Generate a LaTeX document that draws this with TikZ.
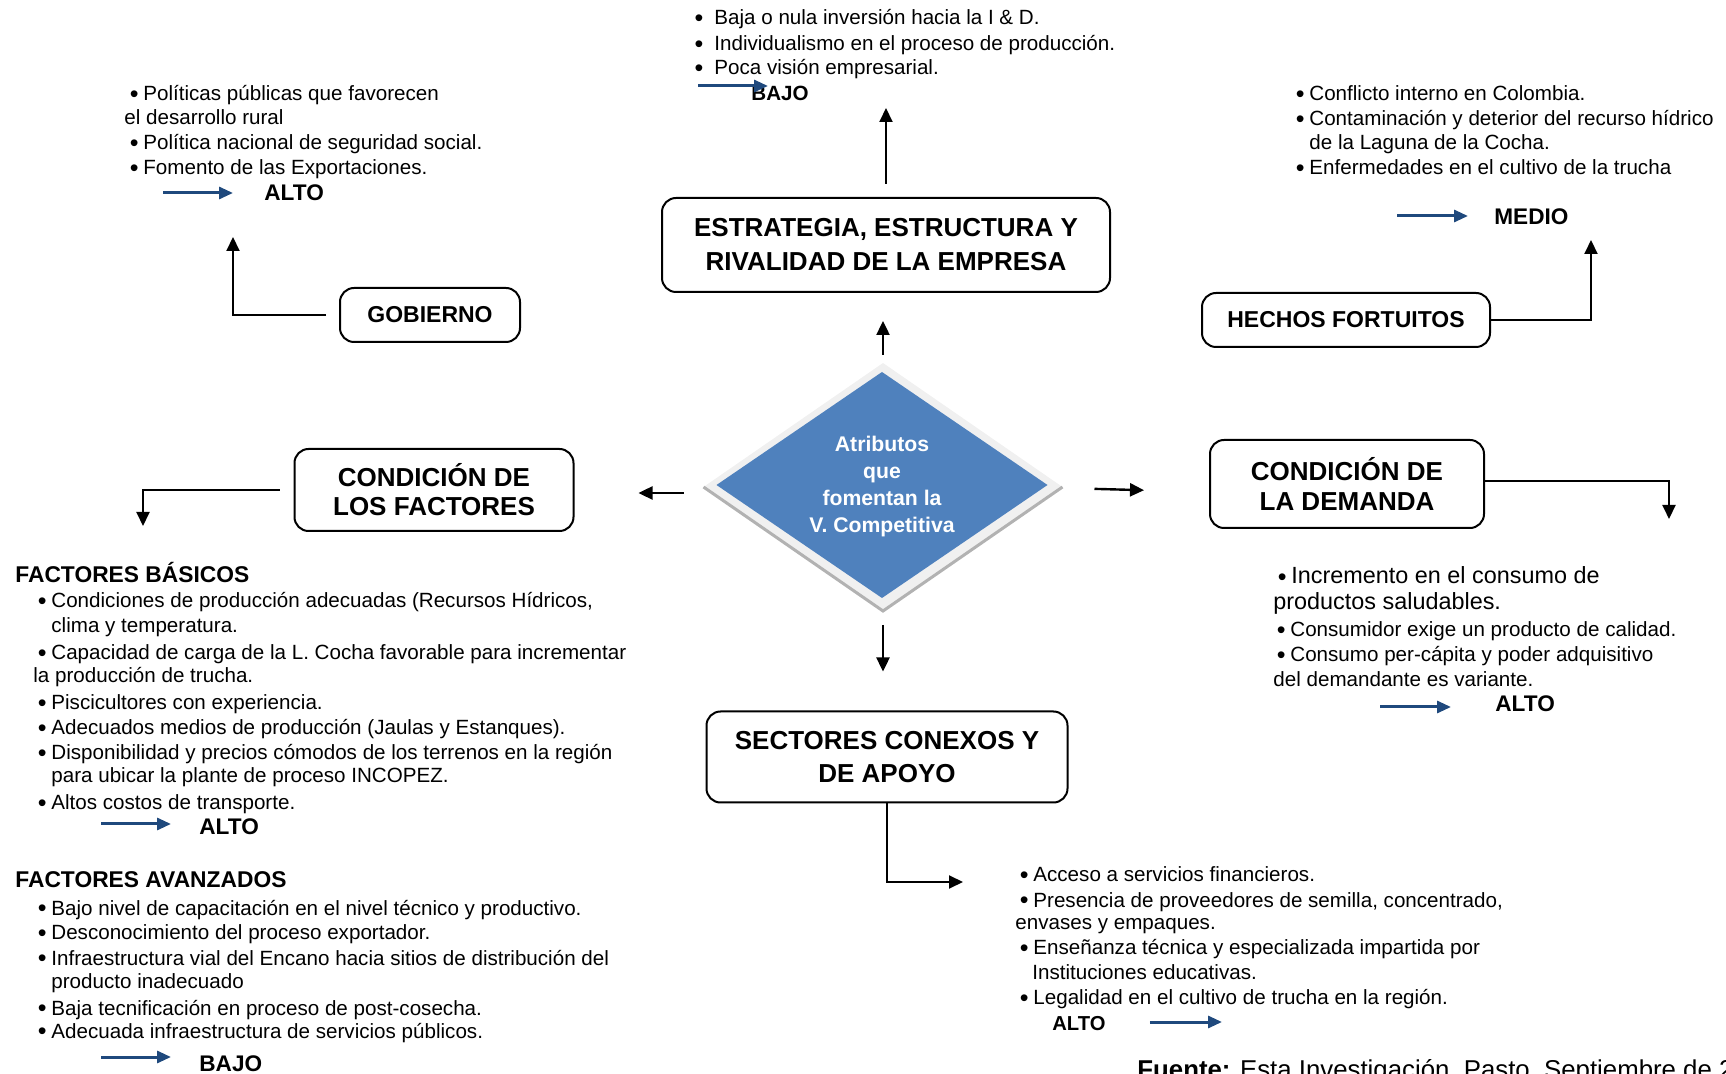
\documentclass[tikz,border=0pt]{standalone}
\usepackage{fontspec}
\setmainfont{Liberation Sans}
\usetikzlibrary{arrows.meta,shapes.geometric}

\definecolor{azulRombo}{HTML}{4F81BD}
\definecolor{azulFlecha}{HTML}{1F497D}
\newcommand{\punto}{\raisebox{-0.9pt}{\fontsize{12.5}{12}\selectfont\textbullet}}
\newcommand{\vin}{\llap{\punto\hspace{2.4pt}}}

\tikzset{
  caja/.style={draw, line width=1pt, rounded corners=7pt, align=center, inner sep=0pt, font=\bfseries\fontsize{13}{17}\selectfont},
  cajita/.style={caja, font=\bfseries\fontsize{11.5}{14}\selectfont},
  flecha/.style={-{Triangle[length=7pt,width=6.5pt]}, line width=1pt},
  azul/.style={-{Triangle[length=7pt,width=6pt]}, line width=1.5pt, draw=azulFlecha, fill=azulFlecha},
  linea/.style={anchor=base west, inner sep=0pt, font=\fontsize{10.3}{12.3}\selectfont},
  lineag/.style={linea, font=\fontsize{11.7}{13}\selectfont},
  nivel/.style={anchor=base west, inner sep=0pt, font=\bfseries\fontsize{11.3}{13}\selectfont},
  titulo/.style={nivel, font=\bfseries\fontsize{11.4}{13}\selectfont},
}

\begin{document}
\begin{tikzpicture}[x=0.5pt,y=-0.5pt]
\clip (0,0) rectangle (1726,1074);

% Rombo central
\node[diamond, fill=gray!12, minimum width=179.5pt, minimum height=124pt, inner sep=0pt, outer sep=0pt] (marco) at (883,487) {};
\draw[gray!60, line width=1.5pt] (marco.west) -- (marco.south) -- (marco.east);
\node[diamond, fill=azulRombo, minimum width=165.5pt, minimum height=113pt, inner sep=0pt, outer sep=0pt] (rombo) at (882,485) {};
\node[text=white, align=center, inner sep=0pt, font=\bfseries\fontsize{10.6}{13.5}\selectfont] (lema) at (882,487) {Atributos\\que\\fomentan la\\V. Competitiva};

% Cajas
\node[caja, minimum width=224pt, minimum height=47pt] (estr) at (886,245) {ESTRATEGIA, ESTRUCTURA Y\\RIVALIDAD DE LA EMPRESA};
\node[cajita, minimum width=90pt, minimum height=27pt] (gob) at (430,315) {GOBIERNO};
\node[cajita, minimum width=144pt, minimum height=27pt] (hechos) at (1346,320) {HECHOS FORTUITOS};
\node[caja, minimum width=139.5pt, minimum height=41pt, font=\bfseries\fontsize{13}{14.5}\selectfont] (factores) at (434,490) {CONDICIÓN DE\\LOS FACTORES};
\node[caja, minimum width=137pt, minimum height=44pt, font=\bfseries\fontsize{13}{15}\selectfont] (demanda) at (1347,484) {CONDICIÓN DE\\LA DEMANDA};
\node[caja, minimum width=180.5pt, minimum height=45.5pt, font=\bfseries\fontsize{13}{16.5}\selectfont] (sectores) at (887,757) {SECTORES CONEXOS Y\\DE APOYO};

% Flechas del rombo
\draw[flecha, line width=1.2pt, shorten <=4pt, shorten >=14pt] (marco.north) -- (marco.north |- estr.south);
\draw[flecha, line width=1.2pt, shorten <=10pt, shorten >=32pt] ([yshift=-3pt]marco.west) -- ([yshift=-3pt]marco.west -| factores.east);
\draw[flecha, line width=1.2pt, shorten <=16pt, shorten >=32.5pt] ([yshift=-0.5pt]marco.east) -- ([yshift=-2.5pt]marco.east -| demanda.west);
\draw[flecha, line width=1.2pt, shorten <=7pt, shorten >=19.5pt] (marco.south) -- (marco.south |- sectores.north);

% Conectores de las cajas
\coordinate (pE) at (886,108);
\coordinate (pG) at (233,237);
\coordinate (pH) at (1591,240);
\coordinate (pF) at (143,526);
\coordinate (pD) at (1669,519);
\coordinate (pS) at (963,882);
\draw[flecha, shorten <=6.5pt] (estr.north) -- (pE);
\draw[flecha, shorten <=6.5pt] (gob.west) -| (pG);
\draw[flecha] (hechos.east) -| (pH);
\draw[flecha, shorten <=7pt] (factores.west) -| (pF);
\draw[flecha] ([yshift=1.5pt]demanda.east) -| (pD);
\draw[flecha] (sectores.south) |- (pS);

% Estrategia
\node[linea] (e1) at (714,25) {\llap{\punto\hspace{5.5pt}}Baja o nula inversión hacia la I \& D.};
\node[linea] (e2) at (714,51) {\llap{\punto\hspace{5.5pt}}Individualismo en el proceso de producción.};
\node[linea] (e3) at (714,75) {\llap{\punto\hspace{5.5pt}}Poca visión empresarial.};
\node[nivel, font=\bfseries\fontsize{10.3}{12}\selectfont] (bajoE) at (751,101) {BAJO};
\coordinate (aE) at (698,86);
\draw[azul, shorten >=-8.5pt] (aE) -- (aE -| bajoE.west);

% Gobierno
\node[linea] (g1) at (143,101) {\vin Políticas públicas que favorecen};
\node[linea] (g2) at (124,125) {el desarrollo rural};
\node[linea] (g3) at (143,150) {\vin Política nacional de seguridad social.};
\node[linea] (g4) at (143,175) {\vin Fomento de las Exportaciones.};
\node[nivel] (altoG) at (264,201) {ALTO};
\coordinate (aG) at (163,193);
\draw[azul, shorten >=15.5pt] (aG) -- (aG -| altoG.west);

% Hechos fortuitos
\node[linea] (h1) at (1309,101) {\vin Conflicto interno en Colombia.};
\node[linea] (h2) at (1309,126) {\vin Contaminación y deterior del recurso hídrico};
\node[linea] (h3) at (1309,150) {de la Laguna de la Cocha.};
\node[linea] (h4) at (1309,175) {\vin Enfermedades en el cultivo de la trucha};
\node[nivel] (medio) at (1494,225) {MEDIO};
\coordinate (aH) at (1397,216);
\draw[azul, shorten >=13pt] (aH) -- (aH -| medio.west);

% Demanda
\node[lineag] (d1) at (1291,584) {\vin Incremento en el consumo de};
\node[lineag] (d2) at (1273,610) {productos saludables.};
\node[linea] (d3) at (1290,637) {\vin Consumidor exige un producto de calidad.};
\node[linea] (d4) at (1290,662) {\vin Consumo per-cápita y poder adquisitivo};
\node[linea] (d5) at (1273,687) {del demandante es variante.};
\node[nivel] (altoD) at (1495,712) {ALTO};
\coordinate (aD) at (1380,707);
\draw[azul, shorten >=22pt] (aD) -- (aD -| altoD.west);

% Factores basicos
\node[titulo] (bas) at (15,583) {FACTORES BÁSICOS};
\node[linea] (f1) at (51,608) {\vin Condiciones de producción adecuadas (Recursos Hídricos,};
\node[linea] (f2) at (51,633) {clima y temperatura.};
\node[linea] (f3) at (51,660) {\vin Capacidad de carga de la L. Cocha favorable para incrementar};
\node[linea] (f4) at (33,683) {la producción de trucha.};
\node[linea] (f5) at (51,710) {\vin Piscicultores con experiencia.};
\node[linea] (f6) at (51,735) {\vin Adecuados medios de producción (Jaulas y Estanques).};
\node[linea] (f7) at (51,760) {\vin Disponibilidad y precios cómodos de los terrenos en la región};
\node[linea] (f8) at (51,783) {para ubicar la plante de proceso INCOPEZ.};
\node[linea] (f9) at (51,810) {\vin Altos costos de transporte.};
\node[nivel] (altoF) at (199,835) {ALTO};
\coordinate (aF) at (101,824);
\draw[azul, shorten >=14pt] (aF) -- (aF -| altoF.west);

% Factores avanzados
\node[titulo] (av) at (15,888) {FACTORES AVANZADOS};
\node[linea] (v1) at (51,915) {\vin Bajo nivel de capacitación en el nivel técnico y productivo.};
\node[linea] (v2) at (51,940) {\vin Desconocimiento del proceso exportador.};
\node[linea] (v3) at (51,965) {\vin Infraestructura vial del Encano hacia sitios de distribución del};
\node[linea] (v4) at (51,988) {producto inadecuado};
\node[linea] (v5) at (51,1015) {\vin Baja tecnificación en proceso de post-cosecha.};
\node[linea] (v6) at (51,1038) {\vin Adecuada infraestructura de servicios públicos.};
\node[nivel] (bajoF) at (199,1071) {BAJO};
\coordinate (aV) at (101,1057);
\draw[azul, shorten >=14pt] (aV) -- (aV -| bajoF.west);

% Sectores conexos
\node[linea] (s1) at (1033,882) {\vin Acceso a servicios financieros.};
\node[linea] (s2) at (1033,907) {\vin Presencia de proveedores de semilla, concentrado,};
\node[linea] (s3) at (1015,930) {envases y empaques.};
\node[linea] (s4) at (1033,955) {\vin Enseñanza técnica y especializada impartida por};
\node[linea] (s5) at (1032,979) {Instituciones educativas.};
\node[linea] (s6) at (1033,1005) {\vin Legalidad en el cultivo de trucha en la región.};
\node[nivel, font=\bfseries\fontsize{10.1}{12}\selectfont] (altoS) at (1052,1030) {ALTO};
\coordinate (aS) at (1222,1022);
\draw[azul, shorten <=22pt] (altoS.east |- aS) -- (aS);

% Fuente
\node[anchor=base west, inner sep=0pt, font=\fontsize{12.9}{15}\selectfont] (fuente) at (1137,1079) {\textbf{Fuente:} Esta Investigación, Pasto, Septiembre de 2};
\end{tikzpicture}
\end{document}
